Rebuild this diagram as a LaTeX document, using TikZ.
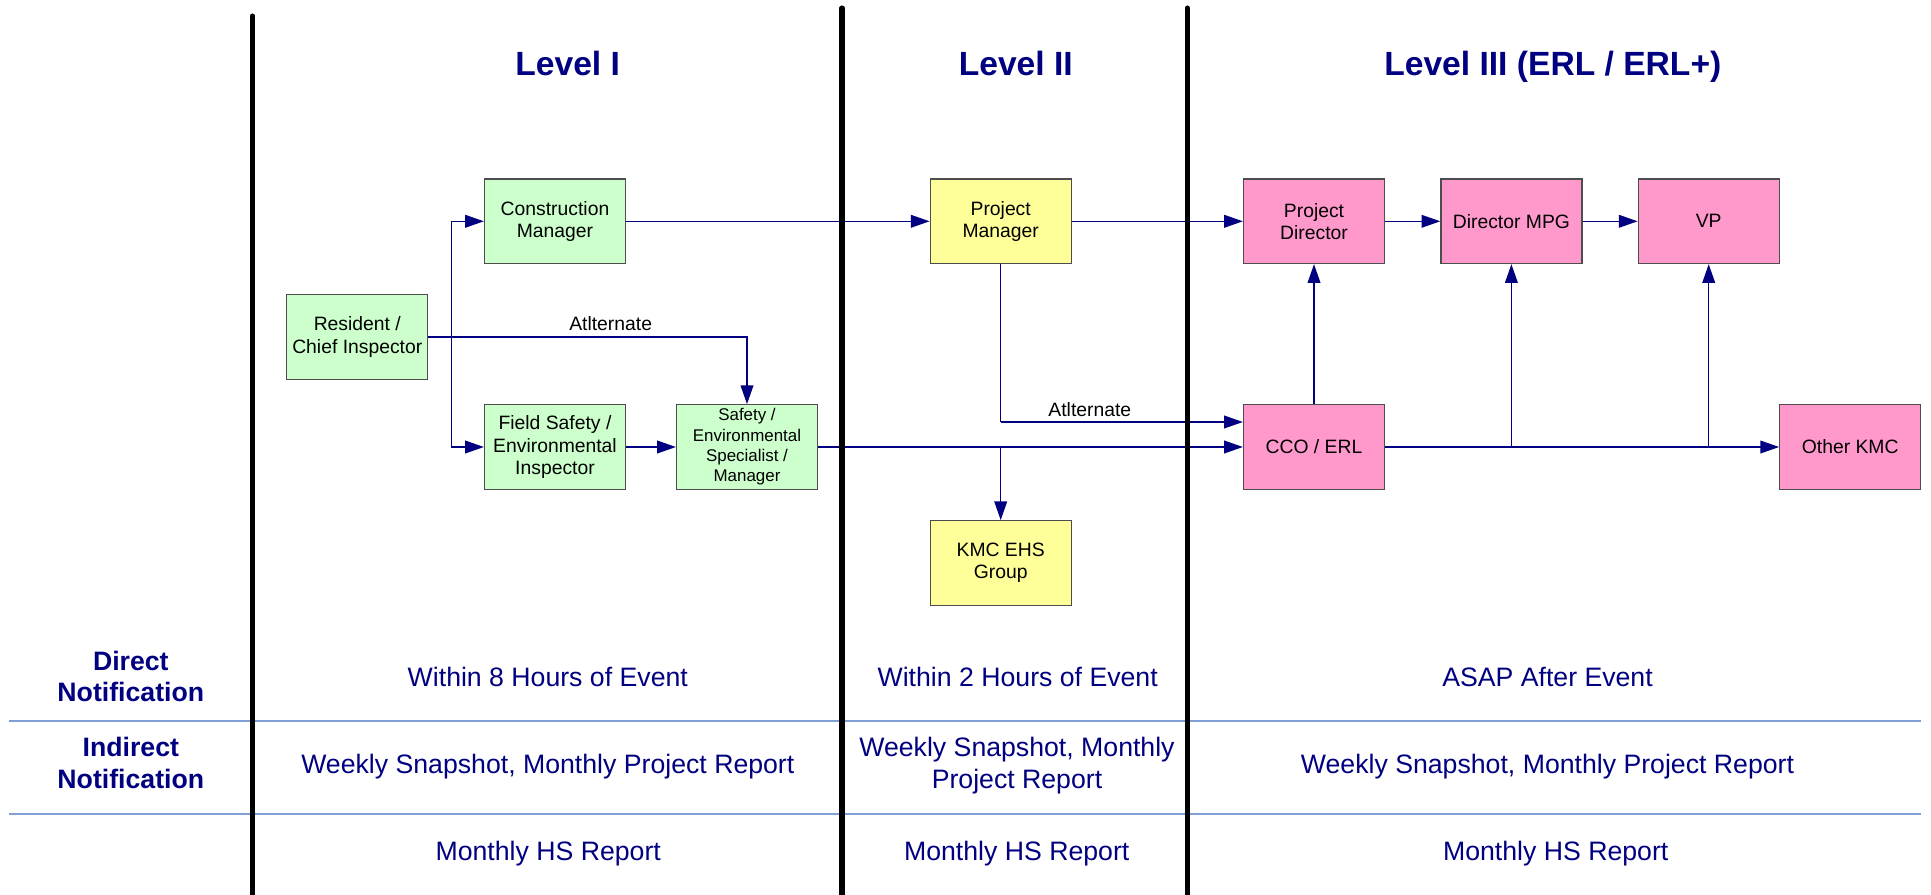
\documentclass[tikz,border=0pt]{standalone}
\usepackage{fontspec}
\setmainfont{Liberation Sans}
\usetikzlibrary{arrows.meta}
\definecolor{navyc}{HTML}{000080}
\definecolor{boxg}{HTML}{CCFFCC}
\definecolor{boxy}{HTML}{FFFF99}
\definecolor{boxp}{HTML}{FF99CC}
\definecolor{sepc}{HTML}{7F9FD5}
\definecolor{edgec}{HTML}{4D4D4D}
\begin{document}
\begin{tikzpicture}[x=0.75pt,y=-0.75pt,
  box/.style={draw=edgec, line width=0.9pt, minimum width=105.75pt, minimum height=63.4pt,
    inner sep=0pt, align=center, font=\fontsize{14.5}{16.7}\selectfont},
  ln/.style={draw=navyc, line width=1pt},
  conn/.style={ln, -{Triangle[length=14pt,width=9.5pt]}},
  thickl/.style={line width=3.8pt, line cap=round, draw=black},
  sepl/.style={draw=sepc, line width=1.2pt},
  head/.style={text=navyc, font=\fontsize{25.2}{30}\selectfont\bfseries, anchor=base},
  rowt/.style={text=navyc, font=\fontsize{20}{23.6}\selectfont, align=center},
  lab/.style={text=navyc, font=\fontsize{20}{23.8}\selectfont\bfseries, align=center},
  alt/.style={font=\fontsize{14.5}{17}\selectfont, anchor=base, inner sep=0pt}
]
\useasboundingbox (0,0) rectangle (1931,895);

% separators
\draw[sepl] (8.6,720.8) -- (1921,720.8);
\draw[sepl] (8.6,813.7) -- (1921,813.7);

% headings
\node[head] (h1) at (567.7,76) {Level I};
\node[head] (h2) at (1015.8,76) {Level II};
\node[head] (h3) at (1552.8,75.7) {Level III (ERL / ERL+)};

% boxes
\node[box, fill=boxg] (res) at (357.3,337) {Resident /\\Chief Inspector};
\node[box, fill=boxg] (cm) at (555,221.3) {Construction\\Manager};
\node[box, fill=boxg] (fs) at (555,447) {Field Safety /\\Environmental\\Inspector};
\node[box, fill=boxg, font=\fontsize{12.7}{15.2}\selectfont] (spec) at (747,447) {Safety /\\Environmental\\Specialist /\\Manager};
\node[box, fill=boxy] (pm) at (1000.7,221.3) {Project\\Manager};
\node[box, fill=boxy] (ehs) at (1000.7,563) {KMC EHS\\Group};
\node[box, fill=boxp] (pd) at (1314,221.3) {Project\\Director};
\node[box, fill=boxp] (cco) at (1314,447) {CCO / ERL};
\node[box, fill=boxp] (mpg) at (1511.4,221.3) {Director MPG};
\node[box, fill=boxp] (vp) at (1708.7,221.3) {VP};
\node[box, fill=boxp] (okmc) at (1850.2,447) {Other KMC};

% connectors
\coordinate (j1) at (451.3,337);
\draw[ln] (res.east) -- (j1);
\draw[conn] (j1) |- (cm.west);
\draw[conn] (j1) |- (fs.west);
\draw[conn] (res.east) -| node[alt, pos=0.286, yshift=5.25pt] (alt1) {Atlternate} (spec.north);
\draw[conn] (fs.east) -- (spec.west);
\draw[conn] (cm.east) -- (pm.west);
\draw[conn] (pm.east) -- (pd.west);
\draw[conn] (pd.east) -- (mpg.west);
\draw[conn] (mpg.east) -- (vp.west);
\draw[conn] (spec.east) -- (cco.west);
\coordinate (j2) at (ehs.north |- spec.east);
\draw[conn] (j2) -- (ehs.north);
\coordinate (a2) at (1000.7,422);
\draw[ln] (pm.south) -- (a2);
\draw[conn] (a2) -- node[alt, pos=0.368, yshift=4.5pt] (alt2) {Atlternate} (cco.west |- a2);
\draw[conn] (cco.north) -- (pd.south);
\draw[conn] (cco.east) -- (okmc.west);
\coordinate (j4) at (mpg.south |- cco.east);
\draw[conn] (j4) -- (mpg.south);
\coordinate (j5) at (vp.south |- cco.east);
\draw[conn] (j5) -- (vp.south);

% lane lines
\draw[thickl] (252.4,16) -- (252.4,905);
\draw[thickl] (842,8) -- (842,905);
\draw[thickl] (1187.2,8) -- (1187.2,905);

% row labels
\node[lab] (dn) at (130.8,676.4) {Direct\\Notification};
\node[lab] (inn) at (130.8,763) {Indirect\\Notification};

% row texts
\node[rowt, anchor=base] (r1a) at (547.8,686) {Within 8 Hours of Event};
\node[rowt, anchor=base] (r1b) at (1017.7,686) {Within 2 Hours of Event};
\node[rowt, anchor=base] (r1c) at (1547.5,686) {ASAP After Event};
\node[rowt, anchor=base] (r2a) at (547.8,773) {Weekly Snapshot, Monthly Project Report};
\node[rowt] (r2b) at (1017,765.6) {Weekly Snapshot, Monthly\\Project Report};
\node[rowt, anchor=base] (r2c) at (1547.5,773) {Weekly Snapshot, Monthly Project Report};
\node[rowt, anchor=base] (r3a) at (548.2,860) {Monthly HS Report};
\node[rowt, anchor=base] (r3b) at (1016.7,860) {Monthly HS Report};
\node[rowt, anchor=base] (r3c) at (1555.7,860) {Monthly HS Report};
\end{tikzpicture}
\end{document}
